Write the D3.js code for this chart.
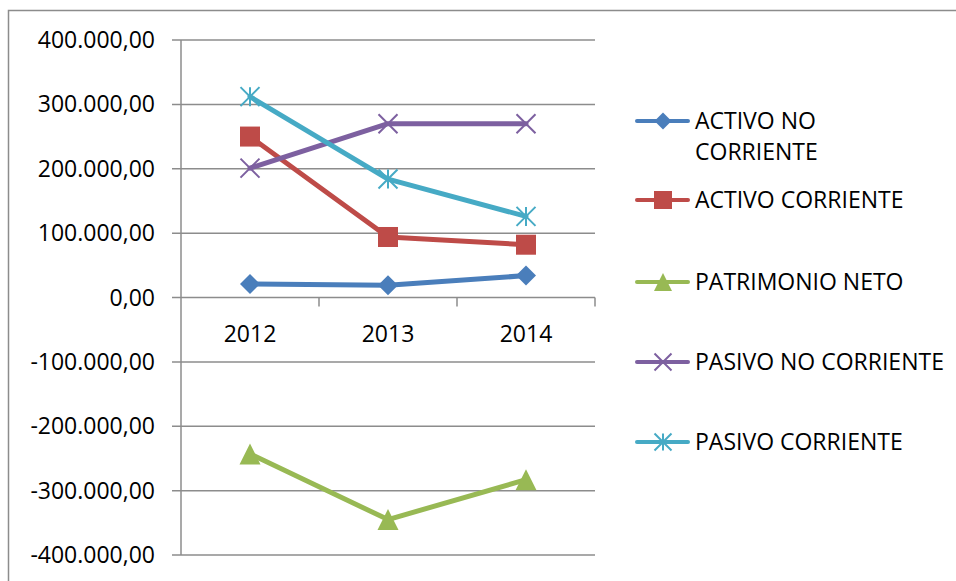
<!DOCTYPE html>
<html>
<head>
<meta charset="utf-8">
<script src="https://cdn.jsdelivr.net/npm/d3@7"></script>
<style>
  html, body { margin: 0; padding: 0; background: #fff; }
  svg { display: block; font-family: "Open Sans", sans-serif; }
</style>
</head>
<body>
<svg id="chart" width="956" height="581"></svg>
<script>
const categories = ["2012", "2013", "2014"];
const seriesNames = ["ACTIVO NO CORRIENTE", "ACTIVO CORRIENTE", "PATRIMONIO NETO", "PASIVO NO CORRIENTE", "PASIVO CORRIENTE"];
const activoNoCorriente = [21000, 19000, 34000];
const activoCorriente = [250000, 94000, 82000];
const patrimonioNeto = [-243000, -345000, -283000];
const pasivoNoCorriente = [201000, 270000, 270000];
const pasivoCorriente = [312000, 184000, 126000];
const yTicks = [400000, 300000, 200000, 100000, 0, -100000, -200000, -300000, -400000];
const legendLines = [["ACTIVO NO", "CORRIENTE"], ["ACTIVO CORRIENTE"], ["PATRIMONIO NETO"], ["PASIVO NO CORRIENTE"], ["PASIVO CORRIENTE"]];

const seriesValues = [activoNoCorriente, activoCorriente, patrimonioNeto, pasivoNoCorriente, pasivoCorriente];
const colors = ["#4a7ebb", "#be4b48", "#98b954", "#7d60a0", "#46aac5"];
const markers = ["diamond", "square", "triangle", "x", "star"];

const svg = d3.select("#chart");
const gridColor = "#8c8c8c";
const fontSize = 23;

// outer frame (top and left)
svg.append("path").attr("d", "M8.5,581 V10.5 H956").attr("fill", "none").attr("stroke", gridColor).attr("stroke-width", 1.5);

const pLeft = 181, pRight = 595, pTop = 40, pBottom = 555;
const x = d3.scaleBand().domain(categories).range([pLeft, pRight]);
const y = d3.scaleLinear().domain([-400000, 400000]).range([pBottom, pTop]);

const locale = d3.formatLocale({decimal: ",", thousands: ".", grouping: [3], currency: ["", ""], minus: "-"});
const fmt = locale.format(",.2f");

// gridlines
svg.append("g").selectAll("line").data(yTicks).join("line")
  .attr("x1", pLeft - 9).attr("x2", pRight)
  .attr("y1", d => y(d)).attr("y2", d => y(d))
  .attr("stroke", gridColor).attr("stroke-width", 1.5);

// y axis line
svg.append("line").attr("x1", pLeft).attr("x2", pLeft).attr("y1", pTop).attr("y2", pBottom)
  .attr("stroke", gridColor).attr("stroke-width", 1.5);

// y labels
svg.append("g").selectAll("text").data(yTicks).join("text")
  .attr("x", 155).attr("y", d => y(d)).attr("dy", "0.35em")
  .attr("text-anchor", "end").attr("font-size", fontSize).attr("fill", "#000")
  .text(d => fmt(d));

// x ticks at category boundaries
const boundaries = categories.map(c => x(c) + x.bandwidth());
svg.append("g").selectAll("line").data(boundaries).join("line")
  .attr("x1", d => d).attr("x2", d => d)
  .attr("y1", y(0)).attr("y2", y(0) + 9)
  .attr("stroke", gridColor).attr("stroke-width", 1.5);

// x labels
svg.append("g").selectAll("text").data(categories).join("text")
  .attr("x", d => x(d) + x.bandwidth() / 2).attr("y", y(0) + 44)
  .attr("text-anchor", "middle").attr("font-size", fontSize).attr("fill", "#000")
  .text(d => d);

function drawMarker(g, type, cx, cy, color, s) {
  if (type === "diamond") {
    g.append("path").attr("d", `M${cx},${cy - s / 2}L${cx + s / 2},${cy}L${cx},${cy + s / 2}L${cx - s / 2},${cy}Z`).attr("fill", color);
  } else if (type === "square") {
    g.append("rect").attr("x", cx - s / 2).attr("y", cy - s / 2).attr("width", s).attr("height", s).attr("fill", color);
  } else if (type === "triangle") {
    g.append("path").attr("d", `M${cx},${cy - s / 2}L${cx + s / 2},${cy + s / 2}L${cx - s / 2},${cy + s / 2}Z`).attr("fill", color);
  } else if (type === "x") {
    const h = s / 2;
    g.append("path").attr("d", `M${cx - h},${cy - h}L${cx + h},${cy + h}M${cx - h},${cy + h}L${cx + h},${cy - h}`)
      .attr("stroke", color).attr("stroke-width", 2).attr("fill", "none");
  } else if (type === "star") {
    const h = s / 2;
    g.append("path").attr("d", `M${cx - h},${cy - h}L${cx + h},${cy + h}M${cx - h},${cy + h}L${cx + h},${cy - h}M${cx},${cy - h}L${cx},${cy + h}`)
      .attr("stroke", color).attr("stroke-width", 2).attr("fill", "none");
  }
}

const line = d3.line().x((d, i) => x(categories[i]) + x.bandwidth() / 2).y(d => y(d));
const markerSizes = [20, 20, 21, 19, 19];

seriesValues.forEach((vals, si) => {
  const g = svg.append("g");
  g.append("path").datum(vals).attr("d", line)
    .attr("fill", "none").attr("stroke", colors[si]).attr("stroke-width", 5)
    .attr("stroke-linejoin", "round").attr("stroke-linecap", "round");
  vals.forEach((v, i) => drawMarker(g, markers[si], x(categories[i]) + x.bandwidth() / 2, y(v), colors[si], markerSizes[si]));
});

// legend
const legendY = [121, 200, 282, 362, 442];
seriesNames.forEach((name, si) => {
  const g = svg.append("g");
  const ly = legendY[si];
  g.append("line").attr("x1", 637).attr("x2", 688).attr("y1", ly).attr("y2", ly)
    .attr("stroke", colors[si]).attr("stroke-width", 4).attr("stroke-linecap", "round");
  drawMarker(g, markers[si], 663, ly, colors[si], [17, 18, 18, 17, 17][si]);
  const t = g.append("text").attr("x", 695).attr("y", ly)
    .attr("font-size", fontSize).attr("fill", "#000");
  legendLines[si].forEach((l, li) => {
    t.append("tspan").attr("x", 695).attr("dy", li === 0 ? "0.35em" : "1.36em").text(l);
  });
});
</script>
</body>
</html>
